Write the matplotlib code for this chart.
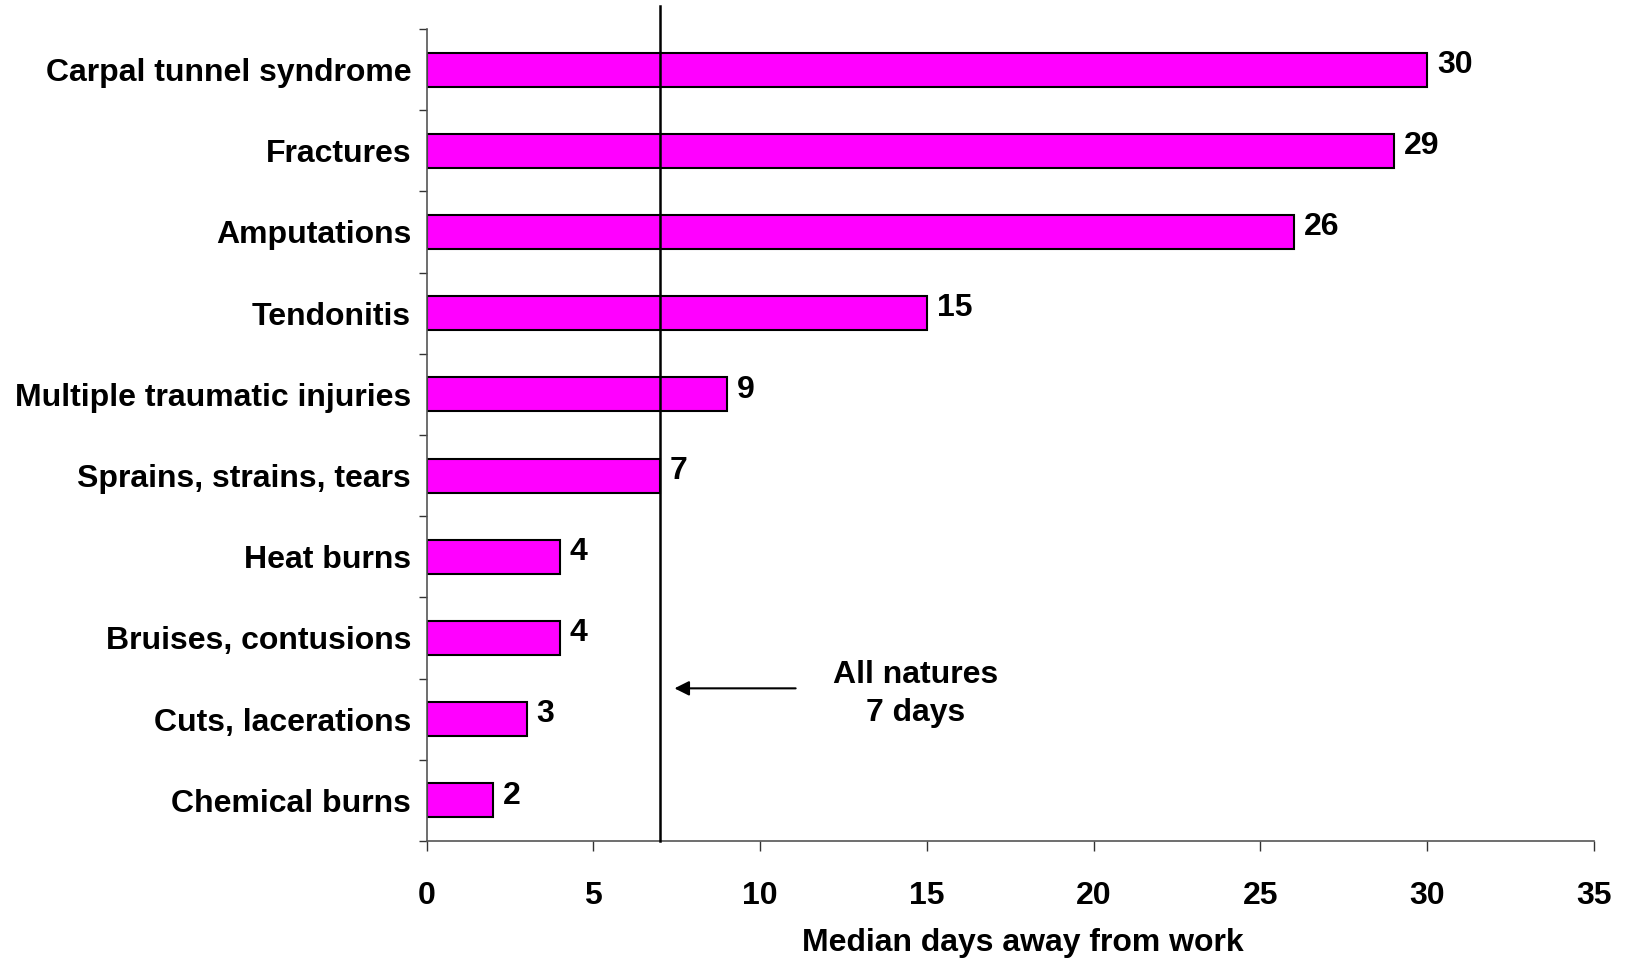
import matplotlib
matplotlib.use("Agg")
import matplotlib.pyplot as plt

categories = ["Carpal tunnel syndrome", "Fractures", "Amputations", "Tendonitis",
              "Multiple traumatic injuries", "Sprains, strains, tears", "Heat burns",
              "Bruises, contusions", "Cuts, lacerations", "Chemical burns"]
values = [30, 29, 26, 15, 9, 7, 4, 4, 3, 2]
all_natures = 7
xticks = [0, 5, 10, 15, 20, 25, 30, 35]

plt.rcParams['font.family'] = ['Liberation Sans', 'DejaVu Sans']
plt.rcParams['font.weight'] = 'bold'
FS = 23

W, H = 1629, 958
fig = plt.figure(figsize=(W / 100, H / 100), dpi=100)
ax = fig.add_axes([426.5 / W, 1 - 841 / H, (1594 - 426.5) / W, (841 - 29) / H])

y = list(range(len(categories)))
ax.barh(y, values, height=0.42, color='#FF00FF', edgecolor='black', linewidth=1.5, zorder=2)
ax.set_ylim(len(categories) - 0.5, -0.5)
ax.set_xlim(0, 35)

for yi, v in zip(y, values):
    ax.text(v + 0.3, yi - 0.06, str(v), va='center', ha='left', fontsize=FS, fontweight='bold')

ax.axvline(all_natures, ymin=0, ymax=1.028, color='black', linewidth=1.8, clip_on=False, zorder=3)

ax.annotate("", xy=(7.35, 7.62), xytext=(11.15, 7.62),
            arrowprops=dict(arrowstyle='-|>', color='black', lw=1.5, mutation_scale=22))
ax.text(14.65, 7.69, "All natures\n7 days", ha='center', va='center', fontsize=FS,
        fontweight='bold', linespacing=1.35)

ax.set_yticks([i - 0.5 for i in range(len(categories) + 1)], minor=False)
ax.set_yticklabels([])
ax.set_yticks(y, minor=True)
ax.set_yticklabels(categories, minor=True, fontsize=FS, fontweight='bold')
ax.tick_params(axis='y', which='minor', length=0, pad=11)
ax.tick_params(axis='y', which='major', length=6, width=1, direction='out', color='#333333')

ax.set_xticks(xticks)
ax.set_xticklabels([str(t) for t in xticks], fontsize=FS, fontweight='bold')
ax.tick_params(axis='x', length=7, width=1, direction='out', pad=22, color='#333333')
ax.set_xlabel("Median days away from work", fontsize=FS, fontweight='bold', labelpad=12)
ax.xaxis.label.set_x(0.511)

for s in ['top', 'right']:
    ax.spines[s].set_visible(False)
for s in ['left', 'bottom']:
    ax.spines[s].set_color('#555555')
    ax.spines[s].set_linewidth(1.2)

fig.savefig("out.png", dpi=100)
